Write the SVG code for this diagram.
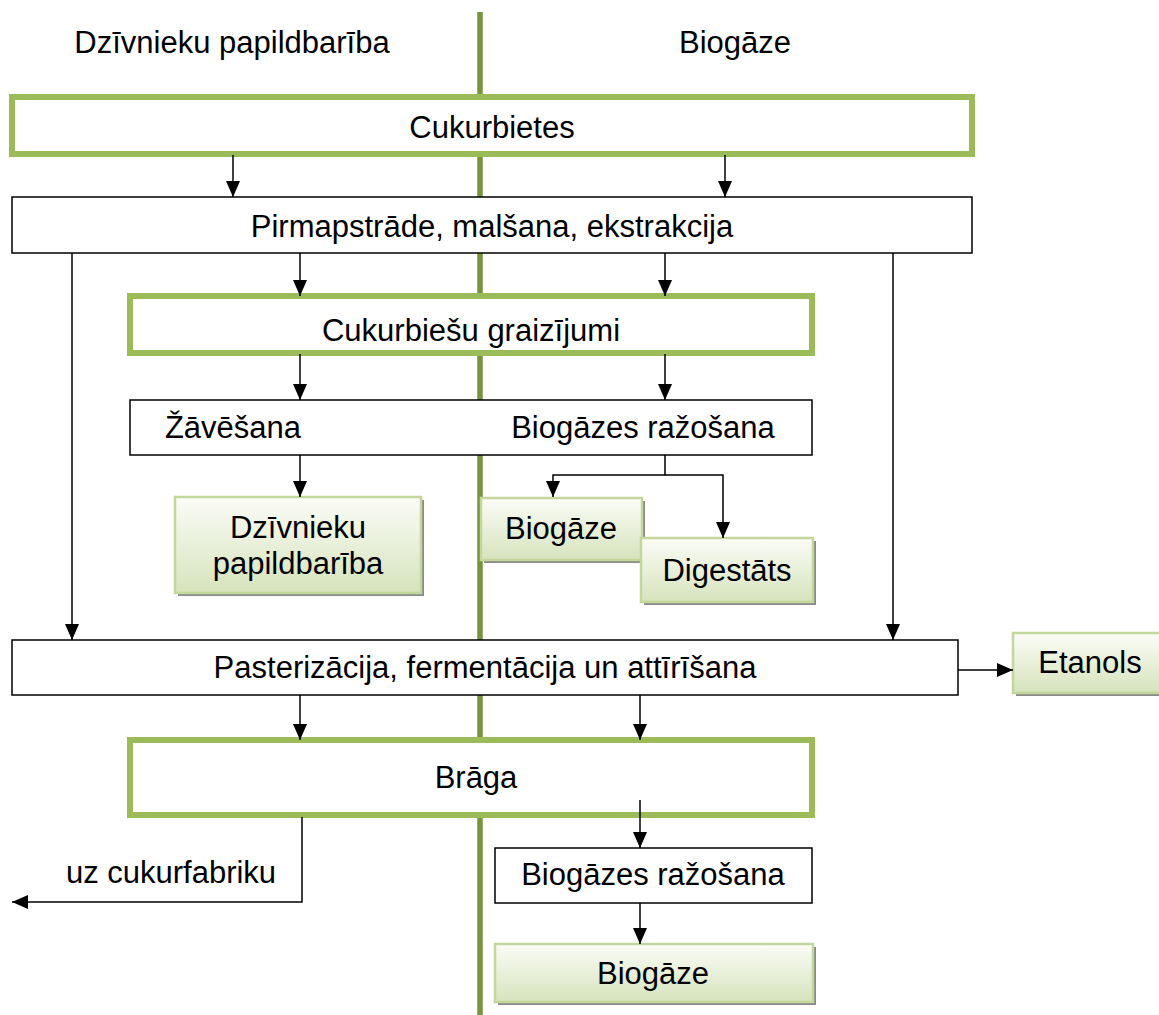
<svg xmlns="http://www.w3.org/2000/svg" width="1159" height="1015" viewBox="0 0 1159 1015">
<defs>
<style>
text{font-family:"Liberation Sans",Arial,sans-serif;font-size:31px;fill:#000;text-anchor:middle;dominant-baseline:central}
.g{fill:#fff;stroke:#9BBB59;stroke-width:6}
.b{fill:#fff;stroke:#000;stroke-width:1.5}
.o{fill:url(#grad);stroke:#C3D69B;stroke-width:2.5}
.sh{fill:#8a8a8a}
.c{fill:none;stroke:#000;stroke-width:1.5}
</style>
<linearGradient id="grad" x1="0" y1="0" x2="0" y2="1">
<stop offset="0" stop-color="#FBFCF7"/>
<stop offset="1" stop-color="#D6E3BC"/>
</linearGradient>
<marker id="ah" viewBox="0 0 16 14" refX="16" refY="7" markerWidth="16" markerHeight="14" markerUnits="userSpaceOnUse" orient="auto">
<path d="M0,0 L16,7 L0,14 Z" fill="#000"/>
</marker>
</defs>
<rect width="1159" height="1015" fill="#fff"/>
<line x1="480" y1="12" x2="480" y2="1015" stroke="#77933C" stroke-width="5.5"/>
<g id="headers">
<text x="232" y="42">Dzīvnieku papildbarība</text>
<text x="735" y="42">Biogāze</text>
</g>
<g id="cukurbietes"><rect class="g" x="12" y="97" width="960" height="57"/><text x="492" y="127">Cukurbietes</text></g>
<g id="pirmapstrade"><rect class="b" x="12" y="197" width="960" height="56"/><text x="492" y="226">Pirmapstrāde, malšana, ekstrakcija</text></g>
<g id="graizijumi"><rect class="g" x="130" y="296" width="682" height="57"/><text x="471" y="330">Cukurbiešu graizījumi</text></g>
<g id="zavesana"><rect class="b" x="130" y="400" width="682" height="55"/><text x="233" y="427">Žāvēšana</text><text x="643" y="427">Biogāzes ražošana</text></g>
<g id="dzivnieku"><rect class="sh" x="178" y="500" width="246" height="96"/><rect class="o" x="175" y="497" width="246" height="96"/><text x="298" y="527">Dzīvnieku</text><text x="298" y="563">papildbarība</text></g>
<g id="biogaze1"><rect class="sh" x="484" y="501" width="161" height="62"/><rect class="o" x="481" y="498" width="161" height="62"/><text x="561" y="528">Biogāze</text></g>
<g id="digestats"><rect class="sh" x="644" y="541" width="172" height="64"/><rect class="o" x="641" y="538" width="172" height="64"/><text x="727" y="570">Digestāts</text></g>
<g id="pasterizacija"><rect class="b" x="12" y="640" width="946" height="55"/><text x="485" y="667">Pasterizācija, fermentācija un attīrīšana</text></g>
<g id="etanols"><rect class="sh" x="1016" y="636" width="150" height="60"/><rect class="o" x="1013" y="633" width="150" height="60"/><text x="1090" y="662">Etanols</text></g>
<g id="braga"><rect class="g" x="130" y="740" width="682" height="75"/><text x="476" y="777">Brāga</text></g>
<g id="biogazes2"><rect class="b" x="495" y="848" width="317" height="55"/><text x="653" y="874">Biogāzes ražošana</text></g>
<g id="biogaze2"><rect class="sh" x="498" y="947" width="318" height="58"/><rect class="o" x="495" y="944" width="318" height="58"/><text x="653" y="973">Biogāze</text></g>
<text x="171" y="872">uz cukurfabriku</text>
<g id="connectors">
<line class="c" x1="233" y1="155" x2="233" y2="197" marker-end="url(#ah)"/>
<line class="c" x1="725" y1="155" x2="725" y2="197" marker-end="url(#ah)"/>
<line class="c" x1="72" y1="253" x2="72" y2="640" marker-end="url(#ah)"/>
<line class="c" x1="893" y1="253" x2="893" y2="640" marker-end="url(#ah)"/>
<line class="c" x1="300" y1="253" x2="300" y2="296" marker-end="url(#ah)"/>
<line class="c" x1="665" y1="253" x2="665" y2="296" marker-end="url(#ah)"/>
<line class="c" x1="300" y1="354" x2="300" y2="400" marker-end="url(#ah)"/>
<line class="c" x1="665" y1="354" x2="665" y2="400" marker-end="url(#ah)"/>
<line class="c" x1="300" y1="455" x2="300" y2="497" marker-end="url(#ah)"/>
<polyline class="c" points="665,455 665,475 553,475 553,497" marker-end="url(#ah)"/>
<polyline class="c" points="665,475 723,475 723,538" marker-end="url(#ah)"/>
<line class="c" x1="958" y1="670" x2="1013" y2="670" marker-end="url(#ah)"/>
<line class="c" x1="300" y1="695" x2="300" y2="740" marker-end="url(#ah)"/>
<line class="c" x1="640" y1="695" x2="640" y2="740" marker-end="url(#ah)"/>
<polyline class="c" points="302,817 302,902 12,902" marker-end="url(#ah)"/>
<line class="c" x1="640" y1="800" x2="640" y2="848" marker-end="url(#ah)"/>
<line class="c" x1="640" y1="903" x2="640" y2="944" marker-end="url(#ah)"/>
</g>
</svg>
